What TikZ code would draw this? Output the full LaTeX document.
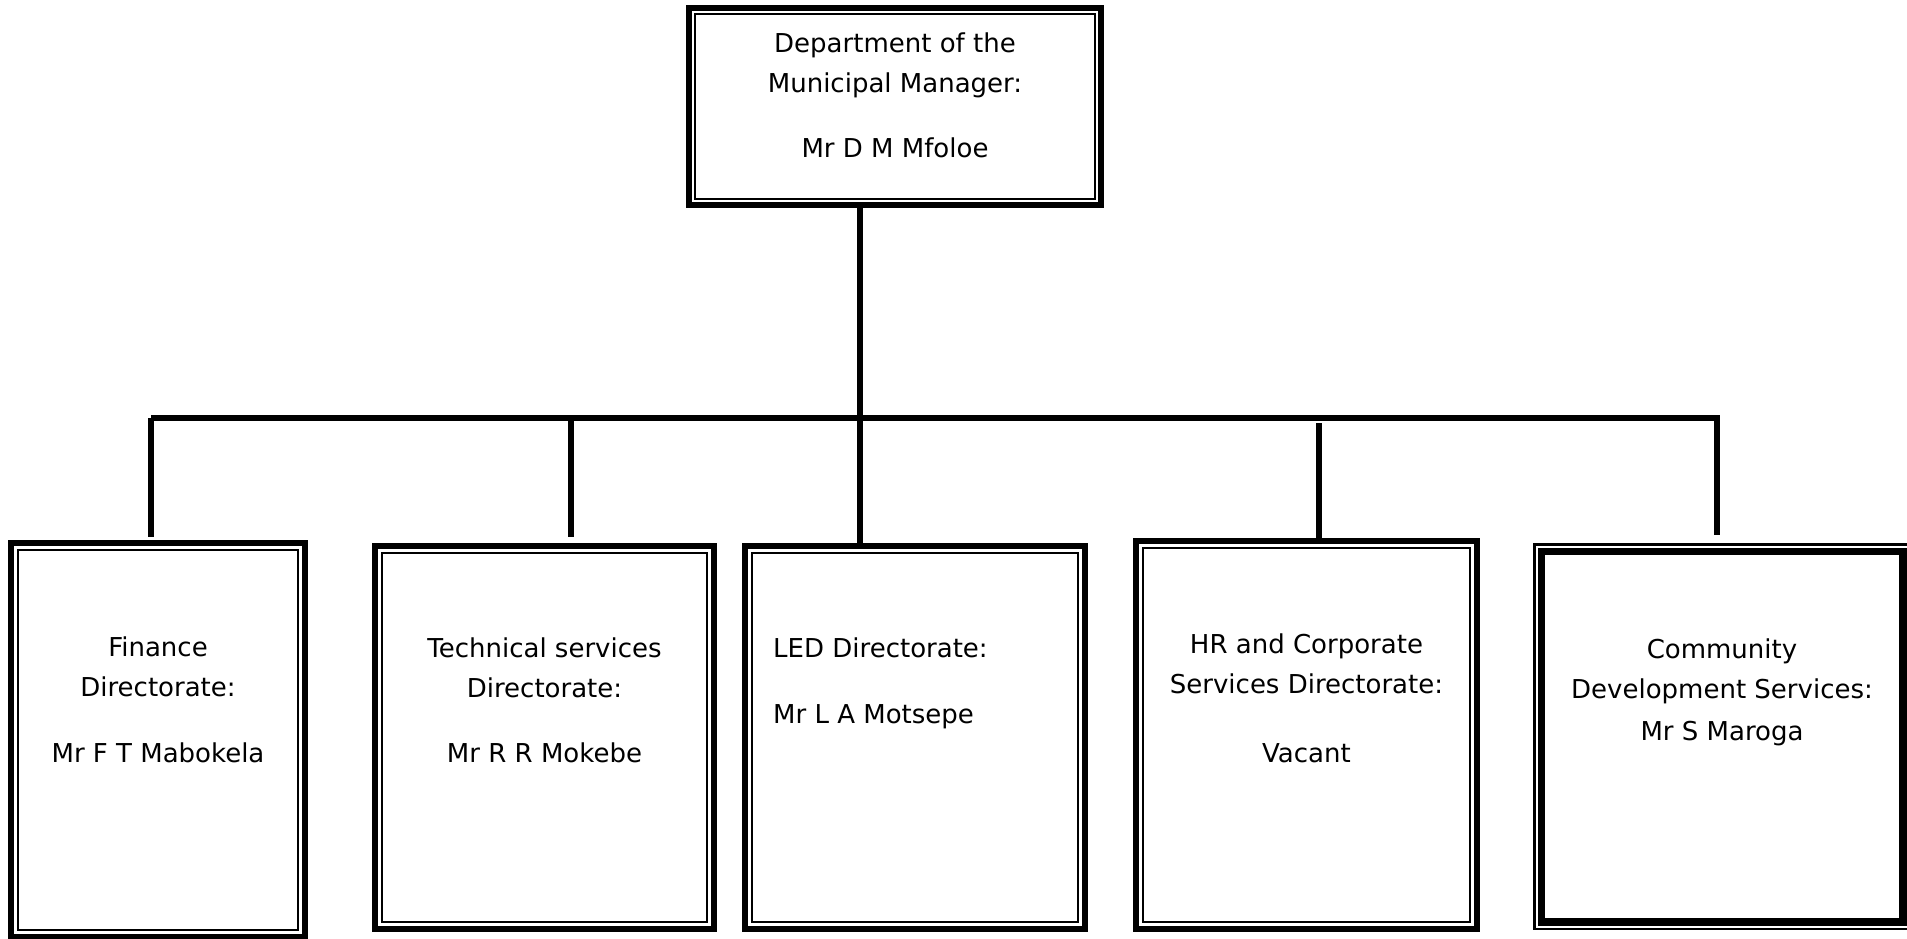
\documentclass[tikz,border=0pt]{standalone}
\usepackage{fontspec}
\setmainfont{DejaVu Sans}
\usetikzlibrary{positioning}

\tikzset{
  unit/.style={rectangle, anchor=north west, inner sep=0pt},
  thickthin/.style={unit, draw, line width=6pt},
  thinthick/.style={unit, draw, line width=2.5pt},
  nametxt/.style={font=\fontsize{26pt}{40pt}\selectfont, align=center, inner sep=0pt, anchor=north},
  link/.style={line width=6pt}
}

\begin{document}
\begin{tikzpicture}[x=1pt,y=-1pt]
\useasboundingbox (0,0) rectangle (1907,939);
% boxes
\node[thickthin, minimum width=412pt, minimum height=197pt] (mm) at (686,5) {};
\node[thickthin, minimum width=294pt, minimum height=394pt] (fin) at (8,540) {};
\node[thickthin, minimum width=339pt, minimum height=383pt] (tech) at (372,543) {};
\node[thickthin, minimum width=340pt, minimum height=383pt] (led) at (742,543) {};
\node[thickthin, minimum width=341pt, minimum height=388pt] (hr) at (1133,538) {};
\node[thinthick, minimum width=375.5pt, minimum height=384.5pt] (cds) at (1533,543) {};
\draw[line width=2pt] ([shift={(9pt,-9pt)}]mm.north west) rectangle ([shift={(-9pt,9pt)}]mm.south east);
\foreach \n in {fin,tech,led,hr}
  \draw[line width=2pt] ([shift={(10pt,-10pt)}]\n.north west) rectangle ([shift={(-10pt,10pt)}]\n.south east);
\draw[line width=7.5pt] ([shift={(8.25pt,-8.25pt)}]cds.north west) rectangle ([shift={(-8.25pt,8.25pt)}]cds.south east);

% texts
\node[nametxt, below=28pt of mm.north] (mmtxt) {Department of the\\Municipal Manager:\\[25pt]Mr D M Mfoloe};
\node[nametxt, below=97pt of fin.north] (fintxt) {Finance\\Directorate:\\[26pt]Mr F T Mabokela};
\node[nametxt, below=95pt of tech.north] (techtxt) {Technical services\\Directorate:\\[25pt]Mr R R Mokebe};
\node[nametxt, align=left, below right=95pt and 31pt of led.north west] (ledtxt) {LED Directorate:\\[26pt]Mr L A Motsepe};
\node[nametxt, below=96pt of hr.north] (hrtxt) {HR and Corporate\\Services Directorate:\\[29pt]Vacant};
\node[nametxt, below=96pt of cds.north] (cdstxt) {Community\\Development Services:\\[2pt]Mr S Maroga};

% lines
\coordinate (j1) at (151,418);
\coordinate (j2) at (571,418);
\coordinate (j3) at (860,418);
\coordinate (j4) at (1319,418);
\coordinate (j5) at (1717,418);
\draw[link] (j1) -- (j5);
\draw[link] (j3 |- mm.south) -- (j3 |- led.north);
\draw[link, shorten >=3pt] (j1) -- (j1 |- fin.north);
\draw[link, shorten >=6pt] (j2) -- (j2 |- tech.north);
\draw[link] ([yshift=-5pt]j4) -- (j4 |- hr.north);
\draw[link, shorten >=8pt] ([yshift=3pt]j5) -- (j5 |- cds.north);
\end{tikzpicture}
\end{document}
